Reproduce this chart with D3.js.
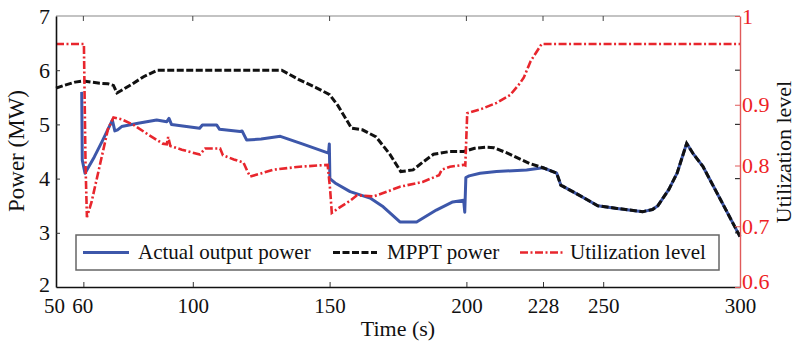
<!DOCTYPE html>
<html>
<head>
<meta charset="utf-8">
<script src="https://cdn.jsdelivr.net/npm/d3@7"></script>
<style>
  html, body { margin: 0; padding: 0; background: #fff; }
  svg { display: block; font-family: "Liberation Serif", "Times New Roman", serif; }
</style>
</head>
<body>
<svg id="chart" width="797" height="342"></svg>
<script>
// ---------- data ----------
const mpptTime = [50,53,57,60,63,66,69,71,72.3,74,78,82,87,100,115,132.5,139,145,150,153,156,158,162,167,172,176,180.5,184,188,194,199,203,207,210,215,223,228,233,234.5,241,248,255,264.5,268,270,274,277,280.5,283,286.5,293,300];
const mpptPower = [5.67,5.72,5.78,5.80,5.78,5.76,5.75,5.72,5.58,5.63,5.75,5.88,6.0,6.0,6.0,6.0,5.82,5.68,5.55,5.35,5.1,4.93,4.9,4.77,4.45,4.13,4.16,4.3,4.45,4.5,4.5,4.56,4.58,4.57,4.47,4.28,4.2,4.1,3.88,3.7,3.5,3.45,3.39,3.43,3.5,3.8,4.1,4.65,4.45,4.22,3.6,2.93];

const actualTime = [59.4,59.6,60.6,64,67,70.6,71.5,72.5,74,80,86.8,90.5,91.3,92.2,102.5,103.5,108.7,109.8,117.3,118,119.7,125,132,140,149.6,149.9,150.1,152,157.5,164.8,169.6,175.7,181.8,189,195,199,199.4,199.8,201,205,211,222,228,233,234.5,241,248,255,264.5,268,270,274,277,280.5,283,286.5,293,300];
const actualPower = [5.6,4.34,4.1,4.4,4.7,5.08,4.88,4.9,4.96,5.02,5.08,5.05,5.11,5.0,4.93,4.99,4.99,4.91,4.87,4.88,4.71,4.73,4.78,4.64,4.47,4.64,4.0,3.92,3.76,3.64,3.48,3.2,3.2,3.42,3.57,3.6,3.38,4.02,4.05,4.1,4.13,4.16,4.2,4.1,3.88,3.7,3.5,3.45,3.39,3.43,3.5,3.8,4.1,4.65,4.45,4.22,3.6,2.93];

const utilTime = [50,60.2,60.8,61.3,63,66,69,71,74,78.3,84,89,90.5,91,91.8,96,102.6,104.5,110,111,115,118.5,120,121,125,129.4,139,149.3,150.2,150.8,154,157.5,160,166,171,175.7,184,190,191,194,199,199.6,200.3,206,211,216,219.5,221,223.5,227.5,300];
const utilLevel = [1.0,1.0,0.80,0.715,0.74,0.80,0.86,0.879,0.876,0.867,0.85,0.836,0.835,0.847,0.832,0.826,0.818,0.828,0.828,0.817,0.810,0.805,0.790,0.782,0.787,0.793,0.798,0.801,0.76,0.722,0.732,0.742,0.751,0.749,0.757,0.765,0.773,0.784,0.793,0.798,0.801,0.80,0.886,0.894,0.903,0.916,0.935,0.945,0.972,1.0,1.0];

const xTicks = [50,60,100,150,200,228,250,300];
const yLeftTicks = [2,3,4,5,6,7];
const yRightTicks = [0.6,0.7,0.8,0.9];
const yRightTopLabel = "1";
const legendLabels = ["Actual output power","MPPT power","Utilization level"];

// ---------- layout ----------
const svg = d3.select("#chart");
const L = 56, R = 740, T = 16, B = 287;
const blue = "#3d57aa", red = "#e8262d", black = "#111";

const x = d3.scaleLinear().domain([50,300]).range([L,R]);
const yL = d3.scaleLinear().domain([2,7]).range([B,T]);
// right axis: 0.6 at bottom, 1.0 where the flat red line sits
const yRtop = 0.6 + (B - T) / ((B - 44) / 0.4);
const yR = d3.scaleLinear().domain([0.6, yRtop]).range([B,T]);

// top frame line
svg.append("line").attr("x1",L).attr("x2",R).attr("y1",T).attr("y2",T)
  .attr("stroke","#888").attr("stroke-width",1.2);

// top ticks (mirrored)
svg.append("g").selectAll("line").data(xTicks.slice(1,-1)).join("line")
  .attr("x1",d=>x(d)).attr("x2",d=>x(d)).attr("y1",T).attr("y2",T+5)
  .attr("stroke","#444").attr("stroke-width",1);

// right-side mirrored black ticks
svg.append("g").selectAll("line").data([3,4,5,6]).join("line")
  .attr("x1",R).attr("x2",R-5).attr("y1",d=>yL(d)).attr("y2",d=>yL(d))
  .attr("stroke","#333").attr("stroke-width",1.2);

// ---------- lines ----------
function series(ts, vs, yScale) { return ts.map((t,i)=>[x(t), yScale(vs[i])]); }
const line = d3.line();

svg.append("path").attr("d", line(series(actualTime, actualPower, yL)))
  .attr("fill","none").attr("stroke",blue).attr("stroke-width",3).attr("stroke-linejoin","round");
svg.append("path").attr("d", line(series(mpptTime, mpptPower, yL)))
  .attr("fill","none").attr("stroke",black).attr("stroke-width",3)
  .attr("stroke-dasharray","7,2.5");
svg.append("path").attr("d", line(series(utilTime, utilLevel, yR)))
  .attr("fill","none").attr("stroke",red).attr("stroke-width",2.6)
  .attr("stroke-dasharray","8,2.5,2,2.5");

// ---------- axes ----------
const xAxis = d3.axisBottom(x).tickValues(xTicks).tickFormat(d3.format("d"))
  .tickSizeInner(-5).tickSizeOuter(0).tickPadding(11);
const gx = svg.append("g").attr("transform",`translate(0,${B})`).call(xAxis);
gx.select(".domain").attr("stroke",black).attr("stroke-width",1.6);
gx.selectAll(".tick line").attr("stroke","#333");
gx.selectAll("text").attr("font-size",21).attr("fill","#111").attr("font-family","Liberation Serif");
gx.selectAll(".tick").filter(d=>d===50||d===300).select("line").remove();
gx.selectAll(".tick").filter(d=>d===50).select("text").attr("dx",-2);
gx.selectAll(".tick").filter(d=>d===60).select("text").attr("dx",-1);

const yAxisL = d3.axisLeft(yL).tickValues(yLeftTicks).tickFormat(d3.format("d"))
  .tickSizeInner(-4).tickSizeOuter(0).tickPadding(6);
const gyl = svg.append("g").attr("transform",`translate(${L},0)`).call(yAxisL);
gyl.select(".domain").attr("stroke",black).attr("stroke-width",1.6);
gyl.selectAll(".tick line").attr("stroke","#333");
gyl.selectAll("text").attr("font-size",22).attr("fill","#111").attr("font-family","Liberation Serif");
gyl.selectAll(".tick").filter(d=>d===2||d===7).select("line").remove();
gyl.selectAll(".tick").filter(d=>d===2).select("text").attr("dy","0.2em");

const yAxisR = d3.axisRight(yR).tickValues(yRightTicks.concat([yRtop]))
  .tickFormat(d => d === yRtop ? yRightTopLabel : d3.format(".1f")(d))
  .tickSizeInner(-5).tickSizeOuter(0).tickPadding(2);
const gyr = svg.append("g").attr("transform",`translate(${R},0)`).call(yAxisR);
gyr.select(".domain").attr("stroke","#e05a5a").attr("stroke-width",1.4);
gyr.selectAll(".tick line").attr("stroke","#e05a5a");
gyr.selectAll("text").attr("font-size",22).attr("fill","#ee1f26").attr("font-family","Liberation Serif");
gyr.selectAll(".tick").filter(d=>d===0.6).select("text").attr("dy","0.05em");

// ---------- axis titles ----------
svg.append("text").attr("x",(L+R)/2).attr("y",336).attr("text-anchor","middle")
  .attr("font-size",22).attr("fill","#111").text("Time (s)");
svg.append("text").attr("transform","translate(24,151) rotate(-90)").attr("text-anchor","middle")
  .attr("font-size",23).attr("fill","#111").text("Power (MW)");
svg.append("text").attr("transform","translate(791,152) rotate(-90)").attr("text-anchor","middle")
  .attr("font-size",22).attr("fill","#111").text("Utilization level");

// ---------- legend ----------
const lg = svg.append("g");
lg.append("rect").attr("x",76).attr("y",235).attr("width",643).attr("height",35)
  .attr("fill","#fff").attr("stroke","#666").attr("stroke-width",1.5);
const legendItems = [
  {x1:83, x2:129, tx:138, color:blue, dash:null, w:3.2},
  {x1:333, x2:377, tx:387, color:black, dash:"7,2.5", w:3},
  {x1:520, x2:565, tx:570, color:red, dash:"8,2.5,2,2.5", w:2.6}
];
legendItems.forEach((it,i)=>{
  lg.append("line").attr("x1",it.x1).attr("x2",it.x2).attr("y1",252.5).attr("y2",252.5)
    .attr("stroke",it.color).attr("stroke-width",it.w).attr("stroke-dasharray",it.dash);
  lg.append("text").attr("x",it.tx).attr("y",259).attr("font-size",21).attr("fill","#111")
    .text(legendLabels[i]);
});
</script>
</body>
</html>
